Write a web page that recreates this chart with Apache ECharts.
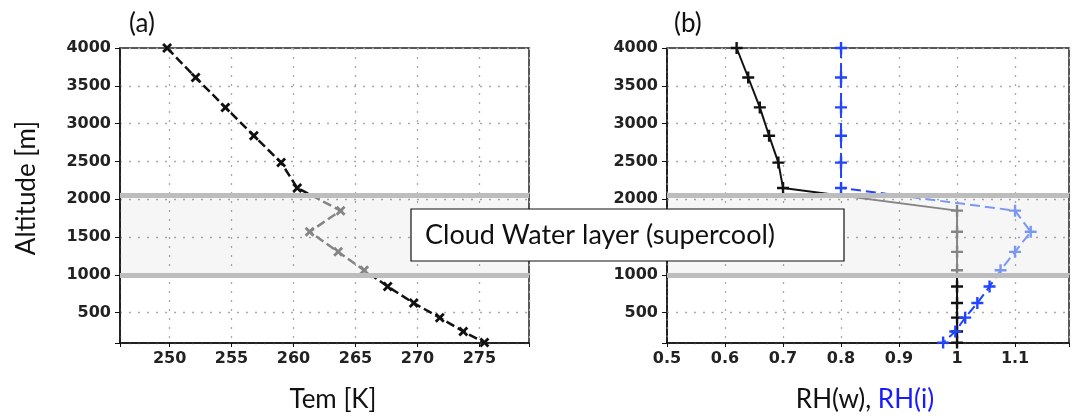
<!DOCTYPE html>
<html>
<head>
<meta charset="utf-8">
<script src="https://cdn.jsdelivr.net/npm/echarts@6/dist/echarts.min.js"></script>
<style>
  html, body { margin: 0; padding: 0; background: #fff; }
  #chart { width: 1072px; height: 420px; }
</style>
</head>
<body>
<div id="chart"></div>
<script>
// model levels (m), shared by both panels
const altitude = [4000, 3610, 3215, 2840, 2485, 2150, 1850, 1570, 1305, 1062, 847, 628, 435, 252, 105];
// (a) temperature [K]
const temperature = [249.8, 252.1, 254.5, 256.8, 259.0, 260.3, 263.8, 261.3, 263.6, 265.7, 267.6, 269.7, 271.8, 273.7, 275.4];
// (b) relative humidity over water / over ice
const rhWater = [0.62, 0.64, 0.66, 0.676, 0.692, 0.70, 1.0, 1.0, 1.0, 1.0, 1.0, 1.0, 1.0, 1.0, 1.0];
const rhIce = [0.8, 0.8, 0.8, 0.8, 0.8, 0.8, 1.10, 1.127, 1.10, 1.075, 1.056, 1.035, 1.014, 0.997, 0.976];
// cloud water layer bounds
const cloudLayer = [1000, 2050];
// tick labels
const altitudeTicks = [500, 1000, 1500, 2000, 2500, 3000, 3500, 4000];
const tempTicks = [250, 255, 260, 265, 270, 275];
const rhTicks = [0.5, 0.6, 0.7, 0.8, 0.9, 1, 1.1];

const xShape = 'path://M2,0L5,3L8,0L10,2L7,5L10,8L8,10L5,7L2,10L0,8L3,5L0,2Z';
const plusShape = 'path://M4,0H6V4H10V6H6V10H4V6H0V4H4Z';

const tickFont = { fontFamily: 'DejaVu Sans', fontWeight: 'bold', fontSize: 16, color: '#222' };
const gridLine = { show: true, lineStyle: { color: '#aaa', type: [2, 7], width: 1.3 } };

function inList(list, v) {
  return list.some(t => Math.abs(t - v) < 1e-6);
}

function pairs(xs) {
  return xs.map((x, i) => [x, altitude[i]]);
}

function layerPieces(outColor, inColor) {
  return [
    { lt: cloudLayer[0], color: outColor },
    { gte: cloudLayer[0], lte: cloudLayer[1], color: inColor },
    { gt: cloudLayer[1], color: outColor }
  ];
}

// light band + thick grey edges for the cloud layer
const bandArea = {
  silent: true,
  itemStyle: { color: 'rgba(0,0,0,0.035)' },
  data: [[{ yAxis: cloudLayer[0] }, { yAxis: cloudLayer[1] }]]
};
const bandLines = {
  silent: true, symbol: 'none', label: { show: false },
  lineStyle: { color: '#bdbdbd', width: 5, type: 'solid' },
  data: cloudLayer.map(v => ({ yAxis: v }))
};

function yAxisOpt(idx) {
  return {
    type: 'value', gridIndex: idx, min: 100, max: 4000, splitNumber: 8,
    axisLine: { show: true, lineStyle: { color: '#111', width: 1.5, type: idx === 1 ? [6, 2] : 'solid' } },
    axisTick: { show: true, length: 5, lineStyle: { color: '#111' } },
    axisLabel: Object.assign({ margin: 9, formatter: v => inList(altitudeTicks, v) ? String(v) : '' }, tickFont),
    splitLine: gridLine
  };
}

const option = {
  animation: false,
  grid: [
    { left: 120, top: 48, width: 409, height: 295, show: true, borderColor: '#222', borderWidth: 1.5 },
    { left: 667, top: 48, width: 405, height: 295, show: true, borderColor: '#222', borderWidth: 1.5 }
  ],
  xAxis: [
    {
      type: 'value', gridIndex: 0, min: 246, max: 279, splitNumber: 5,
      axisLine: { show: true, lineStyle: { color: '#111', width: 1.5 } },
      axisTick: { show: true, length: 4, lineStyle: { color: '#111' } },
      axisLabel: Object.assign({ margin: 8, formatter: v => inList(tempTicks, v) ? String(v) : '' }, tickFont),
      splitLine: gridLine
    },
    {
      type: 'value', gridIndex: 1, min: 0.5, max: 1.193, interval: 0.1,
      axisLine: { show: true, lineStyle: { color: '#111', width: 1.5 } },
      axisTick: { show: true, length: 4, lineStyle: { color: '#111' } },
      axisLabel: Object.assign({ margin: 8, formatter: v => inList(rhTicks, v) ? String(+v.toFixed(1)) : '' }, tickFont),
      splitLine: gridLine
    }
  ],
  yAxis: [yAxisOpt(0), yAxisOpt(1)],
  visualMap: [
    { type: 'piecewise', show: false, seriesIndex: 0, dimension: 1, pieces: layerPieces('#111', '#858585') },
    { type: 'piecewise', show: false, seriesIndex: 1, dimension: 1, pieces: layerPieces('#111', '#858585') },
    { type: 'piecewise', show: false, seriesIndex: 2, dimension: 1, pieces: layerPieces('#2144ff', '#7b98f0') }
  ],
  series: [
    {
      name: 'Tem', type: 'line', xAxisIndex: 0, yAxisIndex: 0,
      data: pairs(temperature),
      symbol: xShape, symbolSize: 10,
      lineStyle: { width: 2.5, type: [9, 4] },
      markArea: bandArea,
      markLine: bandLines
    },
    {
      name: 'RH(w)', type: 'line', xAxisIndex: 1, yAxisIndex: 1,
      data: pairs(rhWater),
      symbol: plusShape, symbolSize: 12,
      lineStyle: { width: 2 },
      markArea: bandArea,
      markLine: bandLines
    },
    {
      name: 'RH(i)', type: 'line', xAxisIndex: 1, yAxisIndex: 1,
      data: pairs(rhIce),
      symbol: plusShape, symbolSize: 12,
      lineStyle: { width: 2, type: [10, 5] }
    }
  ],
  graphic: [
    { type: 'text', left: 129, top: 11, style: { text: '(a)', font: '26px Lato', fill: '#111' } },
    { type: 'text', left: 674, top: 11, style: { text: '(b)', font: '26px Lato', fill: '#111' } },
    {
      type: 'text', x: 27, y: 188, rotation: Math.PI / 2,
      style: { text: 'Altitude [m]', font: '26px Lato', fill: '#111', textAlign: 'center', textVerticalAlign: 'middle' }
    },
    {
      type: 'text', x: 333, y: 400,
      style: { text: 'Tem [K]', font: '26px Lato', fill: '#111', textAlign: 'center', textVerticalAlign: 'middle' }
    },
    {
      type: 'text', x: 865, y: 400,
      style: {
        text: '{w|RH(w), }{i|RH(i)}', textAlign: 'center', textVerticalAlign: 'middle',
        rich: {
          w: { font: '26px Lato', fill: '#111' },
          i: { font: '26px Lato', fill: '#1a1aff' }
        }
      }
    },
    {
      type: 'rect', shape: { x: 411, y: 209, width: 433, height: 52 }, z: 100,
      style: { fill: '#fff', stroke: '#111', lineWidth: 1.2 }
    },
    {
      type: 'text', x: 425, y: 235, z: 101,
      style: { text: 'Cloud Water layer (supercool)', font: '27px Lato', fill: '#111', textVerticalAlign: 'middle' }
    }
  ]
};

const myChart = echarts.init(document.getElementById('chart'));
myChart.setOption(option);
</script>
</body>
</html>
